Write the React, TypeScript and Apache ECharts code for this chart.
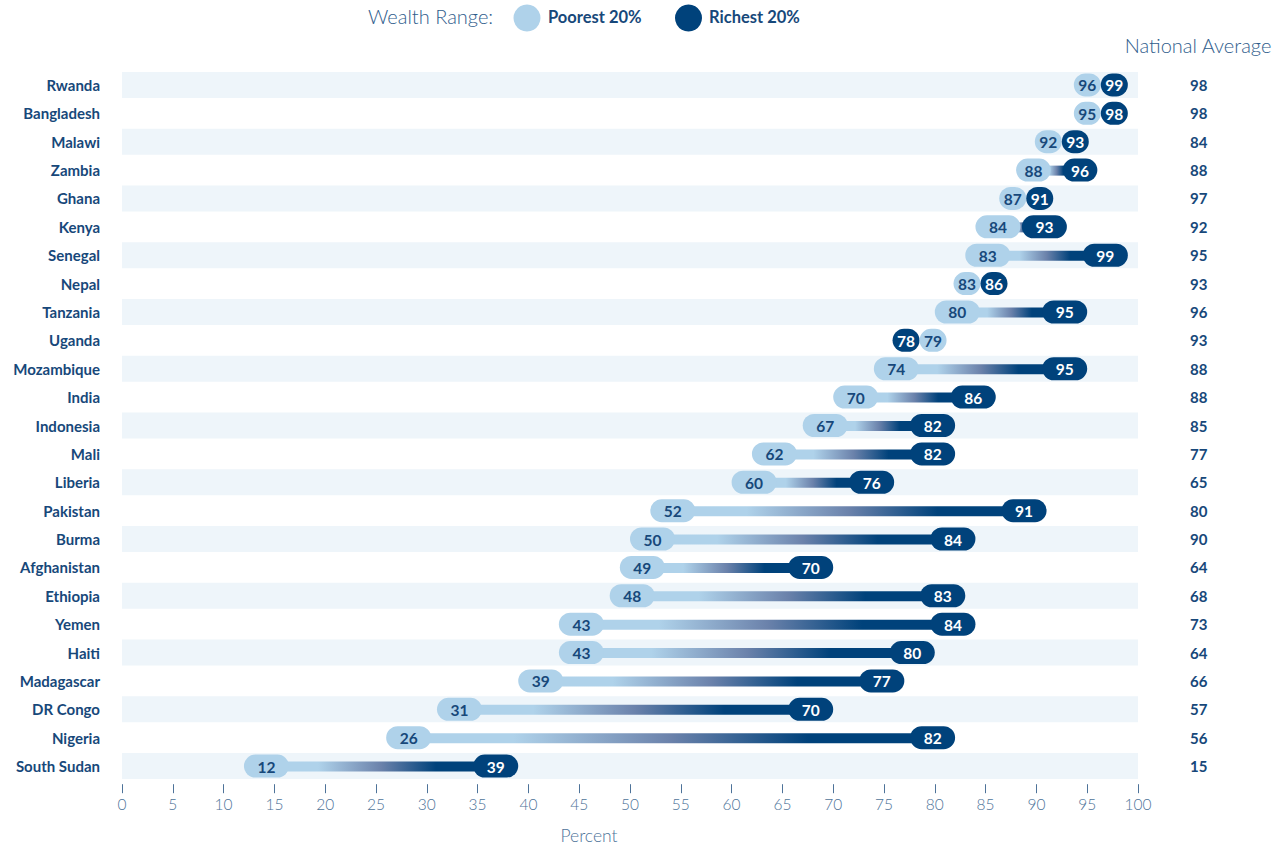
import React, { useEffect, useRef } from "react";
import * as echarts from "echarts";

const countries = [
  "Rwanda", "Bangladesh", "Malawi", "Zambia", "Ghana", "Kenya", "Senegal", "Nepal",
  "Tanzania", "Uganda", "Mozambique", "India", "Indonesia", "Mali", "Liberia", "Pakistan",
  "Burma", "Afghanistan", "Ethiopia", "Yemen", "Haiti", "Madagascar", "DR Congo", "Nigeria",
  "South Sudan",
];
const poorest = [96, 95, 92, 88, 87, 84, 83, 83, 80, 79, 74, 70, 67, 62, 60, 52, 50, 49, 48, 43, 43, 39, 31, 26, 12];
const richest = [99, 98, 93, 96, 91, 93, 99, 86, 95, 78, 95, 86, 82, 82, 76, 91, 84, 70, 83, 84, 80, 77, 70, 82, 39];
const nationalAverage = [98, 98, 84, 88, 97, 92, 95, 93, 96, 93, 88, 88, 85, 77, 65, 80, 90, 64, 68, 73, 64, 66, 57, 56, 15];

const LIGHT = "#afd2ea";
const DARK = "#00427b";
const TEXT_DARK = "#17487a";
const AXIS_TEXT = "#4e7399";
const BAND = "#eef5fa";
const FONT = "Lato, 'Open Sans', sans-serif";

export default function App() {
  const ref = useRef<HTMLDivElement>(null);

  useEffect(() => {
    if (!ref.current) return;
    const chart = echarts.init(ref.current, null, { renderer: "svg" });

    const bandData = countries.map((_, i) => i).filter((i) => i % 2 === 0).map((i) => [i]);
    const pairData = countries.map((_, i) => [i, poorest[i], richest[i]]);

    const renderBand = (params: any, api: any) => {
      const i = api.value(0);
      const p0 = api.coord([0, i]);
      const p1 = api.coord([100, i]);
      const h = 26;
      return {
        type: "rect",
        shape: { x: p0[0], y: p0[1] - h / 2, width: p1[0] - p0[0], height: h },
        style: { fill: BAND },
      };
    };

    const renderPair = (params: any, api: any) => {
      const i = api.value(0);
      const poor = api.value(1);
      const rich = api.value(2);
      const xp = api.coord([poor, i])[0];
      const xr = api.coord([rich, i])[0];
      const y = api.coord([poor, i])[1];
      const xMax = api.coord([99, i])[0];
      const lo = Math.min(xp, xr);
      const hi = Math.max(xp, xr);
      const gap = hi - lo;
      const poorIsLeft = xp <= xr;
      let l0: number, l1: number, r0: number, r1: number;
      if (gap >= 90) {
        l0 = lo; l1 = lo + 45; r0 = hi - 45; r1 = hi;
      } else if (gap >= 60) {
        const w = (gap - 12) / 2;
        l0 = lo; l1 = lo + w; r0 = hi - w; r1 = hi;
      } else {
        const w = 27;
        let c = (lo + hi) / 2;
        if (c + w > xMax) c = xMax - w;
        l0 = c - w; l1 = c; r0 = c; r1 = c + w;
      }
      const ph = 23;
      const lh = 10;
      const children: any[] = [];
      if (r0 - l1 > 0) {
        children.push({
          type: "rect",
          shape: { x: l1 - 6, y: y - lh / 2 + 0.5, width: r0 - l1 + 12, height: lh },
          style: {
            fill: new echarts.graphic.LinearGradient(0, 0, 1, 0, poorIsLeft
              ? [
                  { offset: 0, color: LIGHT },
                  { offset: 0.18, color: LIGHT },
                  { offset: 0.5, color: "#6b82ab" },
                  { offset: 0.78, color: DARK },
                  { offset: 1, color: DARK },
                ]
              : [
                  { offset: 0, color: DARK },
                  { offset: 1, color: LIGHT },
                ]),
          },
        });
      }
      const leftColor = poorIsLeft ? LIGHT : DARK;
      const rightColor = poorIsLeft ? DARK : LIGHT;
      const leftVal = poorIsLeft ? poor : rich;
      const rightVal = poorIsLeft ? rich : poor;
      const pill = (a: number, b: number, fill: string, val: number, isDark: boolean) => [
        {
          type: "rect",
          shape: { x: a, y: y - ph / 2, width: b - a, height: ph, r: ph / 2 },
          style: { fill },
        },
        {
          type: "text",
          x: (a + b) / 2,
          y: y + 0.5,
          style: {
            text: String(val),
            fill: isDark ? "#ffffff" : TEXT_DARK,
            font: `bold 15.5px ${FONT}`,
            align: "center",
            verticalAlign: "middle",
          },
        },
      ];
      children.push(...pill(l0, l1, leftColor, leftVal, !poorIsLeft));
      children.push(...pill(r0, r1, rightColor, rightVal, poorIsLeft));
      return { type: "group", children };
    };

    chart.setOption({
      animation: false,
      grid: {
        left: 122,
        right: 146,
        top: 70.8,
        bottom: 66.8,
        containLabel: false,
        outerBoundsMode: "none",
      },
      xAxis: {
        type: "value",
        min: 0,
        max: 100,
        interval: 5,
        offset: 4,
        axisLine: { show: false },
        axisTick: { show: true, inside: false, length: 9, lineStyle: { color: AXIS_TEXT, width: 1 } },
        splitLine: { show: false },
        axisLabel: { color: AXIS_TEXT, fontFamily: FONT, fontSize: 15.5, fontWeight: 300, margin: 12 },
      },
      yAxis: [
        {
          type: "category",
          data: countries,
          inverse: true,
          axisLine: { show: false },
          axisTick: { show: false },
          axisLabel: { color: TEXT_DARK, fontFamily: FONT, fontSize: 15, fontWeight: "bold", margin: 22 },
        },
        {
          type: "category",
          data: nationalAverage.map(String),
          inverse: true,
          position: "right",
          axisLine: { show: false },
          axisTick: { show: false },
          axisLabel: { color: TEXT_DARK, fontFamily: FONT, fontSize: 15, fontWeight: "bold", margin: 52 },
        },
      ],
      graphic: [
        {
          type: "text",
          left: 368,
          top: 6,
          style: { text: "Wealth Range:", fill: "#2f5d8c", font: `300 20px ${FONT}` },
        },
        { type: "circle", shape: { cx: 527, cy: 18, r: 13.5 }, style: { fill: LIGHT } },
        {
          type: "text",
          left: 548,
          top: 8,
          style: { text: "Poorest 20%", fill: TEXT_DARK, font: `bold 16.5px ${FONT}` },
        },
        { type: "circle", shape: { cx: 688.5, cy: 18, r: 13.5 }, style: { fill: DARK } },
        {
          type: "text",
          left: 709,
          top: 8,
          style: { text: "Richest 20%", fill: TEXT_DARK, font: `bold 16.5px ${FONT}` },
        },
        {
          type: "text",
          right: 12,
          top: 35,
          style: { text: "National Average", fill: "#2f5d8c", font: `300 20px ${FONT}` },
        },
        {
          type: "text",
          x: 589,
          y: 835,
          style: {
            text: "Percent",
            fill: AXIS_TEXT,
            font: `300 17.5px ${FONT}`,
            align: "center",
            verticalAlign: "middle",
          },
        },
      ],
      series: [
        {
          type: "custom",
          silent: true,
          renderItem: renderBand,
          data: bandData,
          encode: { x: -1, y: 0 },
          z: 1,
        },
        {
          type: "custom",
          silent: true,
          renderItem: renderPair,
          data: pairData,
          encode: { x: [1, 2], y: 0 },
          z: 2,
        },
      ],
    });

    return () => chart.dispose();
  }, []);

  return (
    <div
      ref={ref}
      style={{ position: "fixed", left: 0, top: 0, width: 1284, height: 847, background: "#fff" }}
    />
  );
}
